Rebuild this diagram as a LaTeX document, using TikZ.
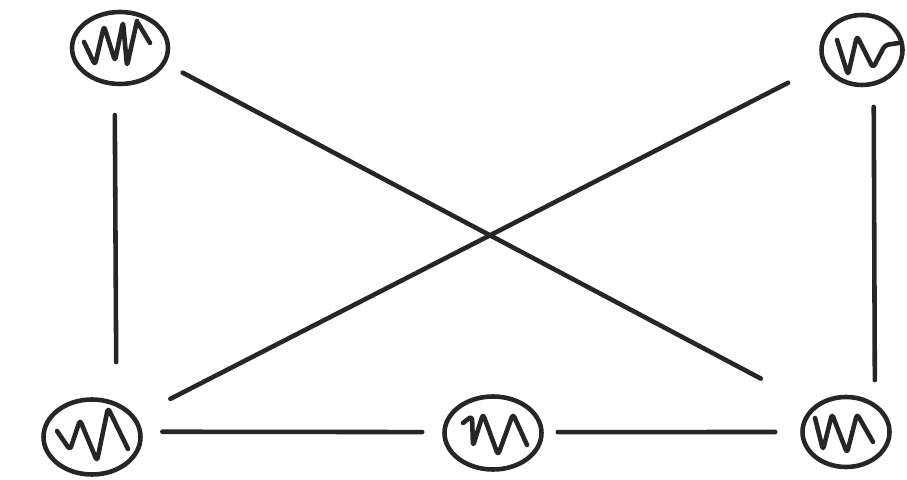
\documentclass[tikz,border=0pt]{standalone}
\usetikzlibrary{shapes.geometric}
\begin{document}
\begin{tikzpicture}[line width=1.3pt, line cap=round, line join=round, color=black!85,
  blob/.style={ellipse, draw, inner sep=0pt},
  scrib/.style={rounded corners=1pt},
  link/.style={}]
\useasboundingbox (0,0) rectangle (9.07,4.80);
\node[blob, minimum width=0.96cm, minimum height=0.72cm] (topleft) at (1.20,4.32) {};
\node[blob, minimum width=0.81cm, minimum height=0.70cm] (topright) at (8.62,4.30) {};
\node[blob, minimum width=0.97cm, minimum height=0.75cm] (botleft) at (0.92,0.43) {};
\node[blob, minimum width=0.97cm, minimum height=0.73cm] (botmid) at (4.93,0.47) {};
\node[blob, minimum width=0.87cm, minimum height=0.70cm] (botright) at (8.46,0.48) {};

\begin{scope}[shift={(topleft.center)}]
\draw[scrib] (-0.36,0.06) -- (-0.25,-0.17) -- (-0.16,0.22) -- (-0.05,-0.13) -- (0.03,0.26) -- (0.07,-0.18) -- (0.17,0.27);
\draw (0.18,0.25) -- (0.30,0.05);
\end{scope}
\begin{scope}[shift={(topright.center)}]
\draw[scrib] (-0.25,0.10) -- (-0.14,-0.25) -- (-0.05,0.14) -- (0.11,-0.18) -- (0.23,0.05) -- (0.37,0.07);
\end{scope}
\begin{scope}[shift={(botleft.center)}]
\draw[scrib] (-0.35,0.06) -- (-0.22,-0.13) -- (-0.12,0.17) -- (0.05,-0.24) -- (0.16,0.29) -- (0.36,-0.12);
\end{scope}
\begin{scope}[shift={(botmid.center)}]
\draw[scrib] (-0.30,0.10) -- (-0.21,0.17) -- (-0.20,-0.13) -- (-0.10,0.19) -- (0.05,-0.22) -- (0.20,0.19) -- (0.34,-0.12);
\end{scope}
\begin{scope}[shift={(botright.center)}]
\draw[scrib] (-0.31,0.14) -- (-0.23,-0.18) -- (-0.14,0.18) -- (0.01,-0.21) -- (0.11,0.18) -- (0.27,-0.10);
\end{scope}

\draw[link, shorten <=0.29cm, shorten >=0.40cm] (topleft.-98) -- (botleft.55);
\draw[link, shorten <=0.19cm, shorten >=0.59cm] (topleft.-19) -- (botright.142);
\draw[link, shorten <=0.39cm, shorten >=0.39cm] (topright.-159) -- (botleft.25);
\draw[link, shorten <=0.21cm, shorten >=0.23cm] (topright.-72) -- (botright.45);
\draw[link, shorten <=0.20cm, shorten >=0.20cm] (botleft.6) -- (botmid.179);
\draw[link, shorten <=0.14cm, shorten >=0.25cm] (botmid.1) -- (botright.180);
\end{tikzpicture}
\end{document}
